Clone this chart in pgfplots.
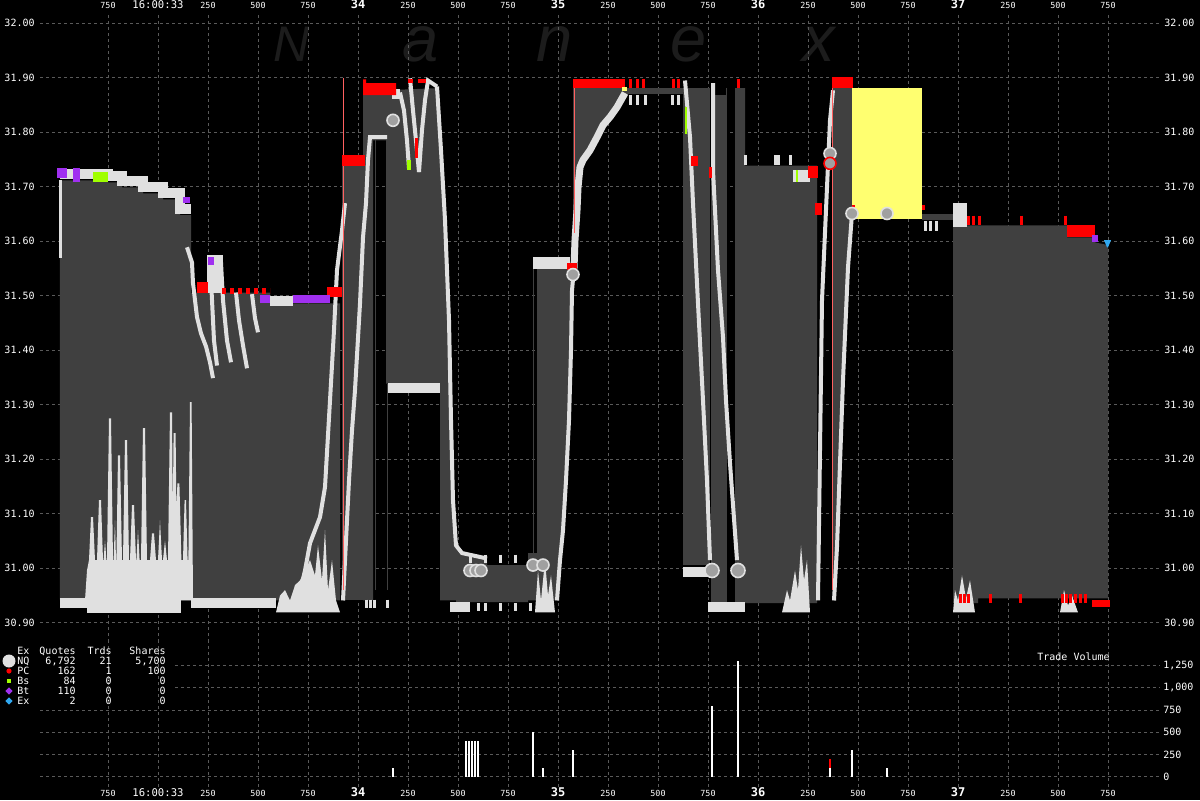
\documentclass[border=0pt]{standalone}
\usepackage{fontspec}
\setmainfont{DejaVu Sans Mono}
\newfontfamily\wmfont{Liberation Sans}
\usepackage{pgfplots}
\pgfplotsset{compat=1.18}
\definecolor{sp}{HTML}{404040}
\definecolor{wq}{HTML}{E0E0E0}
\definecolor{rq}{HTML}{FF0000}
\definecolor{rl}{HTML}{FF6060}
\definecolor{pq}{HTML}{A030F0}
\definecolor{gq}{HTML}{A0FF00}
\definecolor{bq}{HTML}{30A8F0}
\definecolor{yq}{HTML}{FFFF70}
\definecolor{gridc}{HTML}{5A5A5A}
\definecolor{trd}{HTML}{A0A0A0}
\definecolor{wm}{HTML}{1C1C1C}
\newcommand\sm{\fontsize{5}{6}\selectfont}
\newcommand\bt[1]{{\bfseries\fontsize{6}{7}\selectfont #1}}
\tikzset{
  blk/.style={fill=#1, draw=none},
  wl/.style={wq, line width=2pt},
  gst/.style={gridc, dash pattern=on 1.5pt off 1.5pt, line width=0.5pt},
}
\begin{document}
\begin{tikzpicture}
\fill[black] (0pt,0pt) rectangle (600pt,400pt);
% watermark
\node[anchor=base, text=wm, font=\wmfont\itshape\fontsize{25}{25}\selectfont] at (146pt,369pt) {N};
\node[anchor=base, text=wm, font=\wmfont\itshape\fontsize{32.5}{33}\selectfont] at (210.5pt,369pt) {a};
\node[anchor=base, text=wm, font=\wmfont\itshape\fontsize{32.5}{33}\selectfont] at (277.5pt,369pt) {n};
\node[anchor=base, text=wm, font=\wmfont\itshape\fontsize{32.5}{33}\selectfont] at (344.5pt,369pt) {e};
\node[anchor=base, text=wm, font=\wmfont\itshape\fontsize{32.5}{33}\selectfont] at (409.5pt,369pt) {x};

\begin{axis}[at={(20pt,79pt)}, anchor=south west, scale only axis,
  width=560pt, height=315pt, xmin=410, xmax=6010, ymin=30.8648, ymax=32.0207,
  axis line style={draw=none}, major tick length=0pt,
  grid=major, grid style={gst},
  xtick={750,1000,...,5750}, xticklabel pos=upper,
  xticklabels={750,{\fontsize{5.3}{6}\selectfont 16:00:33},250,500,750,\bt{34},250,500,750,\bt{35},250,500,750,\bt{36},250,500,750,\bt{37},250,500,750},
  xticklabel style={anchor=base, inner sep=0pt, yshift=1.75pt, font=\fontsize{4.2}{5}\selectfont, text=white},
  ytick={30.9,31.0,31.1,31.2,31.3,31.4,31.5,31.6,31.7,31.8,31.9,32.0},
  yticklabels={30.90,31.00,31.10,31.20,31.30,31.40,31.50,31.60,31.70,31.80,31.90,32.00},
  yticklabel style={anchor=east, inner sep=0pt, xshift=-2.5pt, font=\sm, text=white},
]
% ---- spread (gray) ----
\addplot[blk=sp] coordinates {(510,31.712) (750,31.712) (750,31.708) (820,31.708) (820,31.699) (925,31.699) (925,31.688) (1025,31.688) (1025,31.677) (1110,31.677) (1110,31.648) (1165,31.648) (1165,30.941) (510,30.941)};
\addplot[blk=sp] coordinates {(1165,31.506) (1560,31.506) (1560,31.483) (1675,31.483) (1675,31.486) (1910,31.486) (1910,30.941) (1165,30.941)};
\addplot[blk=sp] coordinates {(1920,31.739) (2025,31.739) (2025,30.941) (1920,30.941)};
\addplot[blk=sp] coordinates {(2025,31.868) (2140,31.868) (2140,31.785) (2075,31.785) (2075,30.941) (2025,30.941)};
\addplot[blk=sp] coordinates {(2140,31.877) (2395,31.881) (2415,31.767) (2435,31.639) (2455,31.455) (2465,31.272) (2475,31.125) (2490,31.042) (2490,30.941) (2410,30.941) (2410,31.339) (2140,31.339)};
\addplot[blk=sp] coordinates {(2490,31.042) (2520,31.028) (2645,31.015) (2645,31.006) (2850,31.006) (2850,30.938) (2490,30.938)};
\addplot[blk=sp] coordinates {(2895,31.556) (3060,31.556) (3070,31.543) (3065,31.400) (3055,31.272) (3040,31.161) (3025,31.070) (3010,31.015) (2995,30.941) (2850,30.941) (2850,31.028) (2895,31.028)};
\addplot[blk=sp] coordinates {(3075,31.881) (3335,31.881) (3335,31.872) (3295,31.846) (3260,31.828) (3225,31.813) (3195,31.791) (3160,31.767) (3125,31.749) (3110,31.736) (3100,31.699) (3095,31.657) (3085,31.607) (3075,31.552)};
\addplot[blk=sp] coordinates {(3335,31.881) (3625,31.881) (3625,31.870) (3335,31.870)};
\addplot[blk=sp] coordinates {(3625,31.881) (3760,31.881) (3760,31.006) (3625,31.006)};
\addplot[blk=sp] coordinates {(3765,31.868) (3845,31.868) (3845,30.936) (3765,30.936)};
\addplot[blk=sp] coordinates {(3885,31.881) (3935,31.881) (3935,31.739) (4295,31.739) (4295,30.936) (3885,30.936)};
\addplot[blk=sp] coordinates {(4375,31.881) (4470,31.881) (4470,31.651) (4450,31.552) (4425,31.345) (4410,31.193) (4395,31.039) (4380,30.941) (4375,30.941)};
\addplot[blk=yq] coordinates {(4470,31.881) (4820,31.881) (4820,31.640) (4470,31.640)};
\addplot[blk=sp] coordinates {(4820,31.650) (4985,31.650) (4985,31.639) (4820,31.639)};
\addplot[blk=sp] coordinates {(4975,31.629) (5545,31.629) (5545,31.607) (5685,31.607) (5685,31.598) (5750,31.593) (5750,30.945) (5100,30.945) (5100,30.936) (4975,30.936)};
% thin gray lines
\addplot[sp, line width=0.5pt] coordinates {(2045,31.785) (2045,30.96)};
\addplot[sp, line width=0.5pt] coordinates {(2060,31.785) (2060,30.96)};
\addplot[sp, line width=0.5pt] coordinates {(2085,31.785) (2085,30.96)};
\addplot[sp, line width=0.5pt] coordinates {(2145,31.339) (2145,30.96)};
\addplot[sp, line width=0.5pt] coordinates {(2875,31.556) (2875,31.028)};
\addplot[sp, line width=0.5pt] coordinates {(3840,31.881) (3840,30.95)};
% ---- white quote markers ----
\addplot[wq, line width=5pt] coordinates {(510,31.723) (750,31.723) (750,31.719) (820,31.719) (820,31.710) (925,31.710) (925,31.699) (1025,31.699) (1025,31.688) (1110,31.688) (1110,31.659) (1165,31.659)};
\addplot[wq, line width=1.5pt] coordinates {(515,31.712) (515,31.569)};
\addplot[wq, line width=5pt] coordinates {(510,30.936) (650,30.936)};
\addplot[wq, line width=9pt] coordinates {(645,30.934) (1115,30.934)};
\addplot[blk=wq] coordinates {(635,30.941) (645,30.996) (655,31.015) (665,31.094) (675,31.094) (685,31.015) (695,31.015) (705,31.125) (715,31.125) (725,31.015) (728,31.015) (735,31.051) (742,31.015) (745,31.015) (755,31.275) (765,31.275) (775,31.015) (778,31.015) (785,31.088) (790,31.015) (792,31.015) (800,31.207) (810,31.207) (820,31.015) (825,31.015) (835,31.235) (845,31.235) (855,31.015) (860,31.015) (870,31.116) (880,31.116) (890,31.015) (892,31.015) (900,31.070) (908,31.015) (915,31.015) (925,31.257) (935,31.257) (945,31.015) (960,31.015) (970,31.064) (980,31.064) (990,31.015) (1000,31.015) (1010,31.088) (1020,31.015) (1025,31.015) (1035,31.051) (1045,31.015) (1050,31.015) (1060,31.286) (1070,31.286) (1074,31.106) (1078,31.248) (1088,31.248) (1092,31.106) (1097,31.156) (1107,31.156) (1117,31.015) (1125,31.015) (1133,31.125) (1140,31.125) (1148,31.015) (1152,31.015) (1160,31.305) (1168,31.305) (1175,30.941)};
\addplot[wl] coordinates {(1145,31.589) (1170,31.561) (1175,31.523) (1195,31.461) (1215,31.431) (1240,31.407) (1260,31.378) (1275,31.349)};
\addplot[wl] coordinates {(1260,31.569) (1270,31.492) (1280,31.418) (1295,31.372)};
\addplot[wl] coordinates {(1315,31.561) (1325,31.492) (1345,31.418) (1365,31.378)};
\addplot[wl] coordinates {(1390,31.506) (1405,31.455) (1425,31.409) (1445,31.367)};
\addplot[wl] coordinates {(1470,31.503) (1485,31.459) (1500,31.433)};
\addplot[blk=wq] coordinates {(1245,31.574) (1325,31.574) (1325,31.506) (1245,31.506)};
\addplot[wq, line width=5pt] coordinates {(1560,31.490) (1675,31.490)};
\addplot[wq, line width=5pt] coordinates {(1165,30.936) (1590,30.936)};
\addplot[blk=wq] coordinates {(1590,30.919) (1610,30.950) (1635,30.960) (1660,30.941) (1685,30.969) (1710,30.978) (1735,30.996) (1760,31.015) (1785,30.987) (1800,31.042) (1820,30.978) (1835,31.070) (1850,30.960) (1870,31.015) (1890,30.941) (1910,30.919)};
\addplot[wl] coordinates {(1700,30.941) (1735,30.996) (1760,31.046) (1810,31.094) (1835,31.149) (1860,31.308) (1880,31.437) (1895,31.547) (1920,31.620) (1935,31.670)};
\addplot[wl] coordinates {(1925,30.941) (1940,31.051) (1955,31.161) (1970,31.253) (1985,31.327) (2010,31.486) (2025,31.607) (2040,31.670) (2050,31.749) (2060,31.791) (2145,31.791)};
\addplot[wq, line width=5pt] coordinates {(2170,31.870) (2210,31.870)};
\addplot[wl] coordinates {(2210,31.873) (2230,31.840) (2245,31.785) (2255,31.734)};
\addplot[wl] coordinates {(2260,31.899) (2275,31.840) (2290,31.785) (2305,31.727)};
\addplot[wl] coordinates {(2305,31.727) (2320,31.804) (2335,31.859) (2350,31.895) (2395,31.884)};
\addplot[wl] coordinates {(2395,31.884) (2415,31.767) (2435,31.639) (2455,31.455) (2465,31.272) (2475,31.125) (2490,31.042) (2520,31.028) (2645,31.018)};
\addplot[wq, line width=5pt] coordinates {(2150,31.330) (2410,31.330)};
\addplot[wq, line width=5pt] coordinates {(2460,30.929) (2560,30.929)};
\addplot[wq, only marks, mark=|, mark size=2pt, mark options={line width=1.5pt}] coordinates {(2560,31.018) (2635,31.018) (2710,31.018) (2785,31.018) (2600,30.929) (2635,30.929) (2710,30.929) (2785,30.929) (2860,30.929) (2040,30.935) (2060,30.935) (2080,30.935) (2145,30.935)};
\addplot[wq, line width=6pt] coordinates {(2875,31.561) (3060,31.561)};
\addplot[wl] coordinates {(2995,30.941) (3010,31.015) (3025,31.070) (3040,31.161) (3055,31.272) (3065,31.400) (3070,31.510) (3080,31.550)};
\addplot[wq, line width=3.5pt] coordinates {(3080,31.550) (3085,31.602) (3095,31.657) (3100,31.699) (3110,31.736) (3125,31.749) (3160,31.767) (3195,31.791) (3225,31.813) (3260,31.828) (3295,31.846) (3335,31.872)};
\addplot[blk=wq] coordinates {(2885,30.919) (2900,30.996) (2915,30.941) (2935,31.015) (2950,30.950) (2965,30.987) (2985,30.919)};
\addplot[wq, only marks, mark=|, mark size=2.5pt, mark options={line width=1.5pt}] coordinates {(3360,31.859) (3395,31.859) (3435,31.859) (3570,31.859) (3600,31.859) (3935,31.749) (4085,31.749) (4100,31.749) (4160,31.749) (4835,31.628) (4860,31.628) (4890,31.628)};
\addplot[wl] coordinates {(3635,31.895) (3660,31.791) (3675,31.670) (3700,31.486) (3725,31.308) (3745,31.161) (3760,31.015)};
\addplot[wl] coordinates {(3775,31.890) (3775,31.730) (3800,31.547) (3825,31.424) (3840,31.308) (3860,31.193) (3895,31.015)};
\addplot[wq, line width=5pt] coordinates {(3625,30.994) (3760,30.994)};
\addplot[wq, line width=5pt] coordinates {(3750,30.929) (3935,30.929)};
\addplot[blk=wq] coordinates {(4120,30.919) (4145,30.960) (4160,30.941) (4185,30.996) (4200,30.960) (4215,31.042) (4230,30.978) (4245,31.015) (4260,30.919)};
\addplot[blk=wq] coordinates {(4175,31.730) (4260,31.730) (4260,31.708) (4175,31.708)};
\addplot[wl] coordinates {(4300,30.941) (4310,31.217) (4320,31.492) (4345,31.699) (4360,31.822) (4375,31.877)};
\addplot[wl] coordinates {(4470,31.651) (4450,31.552) (4425,31.345) (4410,31.193) (4395,31.039) (4380,30.941)};
\addplot[blk=wq] coordinates {(4975,31.670) (5045,31.670) (5045,31.626) (4975,31.626)};
\addplot[blk=wq] coordinates {(4975,30.919) (4985,30.960) (5000,30.941) (5020,30.987) (5040,30.945) (5060,30.978) (5085,30.919)};
\addplot[blk=wq] coordinates {(5510,30.919) (5530,30.960) (5550,30.932) (5570,30.950) (5600,30.919)};
% ---- red ----
\addplot[rl, line width=0.5pt] coordinates {(1925,31.899) (1925,30.960)};
\addplot[rl, line width=0.5pt] coordinates {(3080,31.881) (3080,31.615)};
\addplot[rl, line width=0.5pt] coordinates {(4370,31.899) (4370,30.960)};
\addplot[blk=rq] coordinates {(1195,31.525) (1250,31.525) (1250,31.506) (1195,31.506)};
\addplot[rq, line width=3pt, dash pattern=on 2pt off 2pt] coordinates {(1320,31.508) (1560,31.508)};
\addplot[blk=rq] coordinates {(1845,31.516) (1920,31.516) (1920,31.497) (1845,31.497)};
\addplot[blk=rq] coordinates {(1920,31.758) (2035,31.758) (2035,31.738) (1920,31.738)};
\addplot[blk=rq] coordinates {(2025,31.897) (2040,31.897) (2040,31.890) (2190,31.890) (2190,31.868) (2025,31.868)};
\addplot[blk=rq] coordinates {(2250,31.897) (2275,31.897) (2275,31.890) (2250,31.890)};
\addplot[blk=rq] coordinates {(2300,31.897) (2340,31.897) (2340,31.890) (2300,31.890)};
\addplot[rq, line width=1.5pt] coordinates {(2290,31.789) (2290,31.752)};
\addplot[blk=rq] coordinates {(3075,31.897) (3335,31.897) (3335,31.881) (3075,31.881)};
\addplot[blk=rq] coordinates {(3045,31.560) (3095,31.560) (3095,31.547) (3045,31.547)};
\addplot[rq, only marks, mark=|, mark size=2.25pt, mark options={line width=1.5pt}] coordinates {(3360,31.889) (3395,31.889) (3425,31.889) (3575,31.889) (3600,31.889) (3900,31.889) (5050,31.639) (5075,31.639) (5105,31.639) (5315,31.639) (5535,31.639) (5010,30.945) (5030,30.945) (5050,30.945) (5160,30.945) (5310,30.945) (5520,30.945) (5540,30.945) (5560,30.945) (5585,30.945) (5610,30.945) (5635,30.945)};
\addplot[blk=rq] coordinates {(3665,31.756) (3700,31.756) (3700,31.739) (3665,31.739)};
\addplot[blk=rq] coordinates {(3755,31.736) (3770,31.736) (3770,31.717) (3755,31.717)};
\addplot[blk=rq] coordinates {(4250,31.739) (4300,31.739) (4300,31.716) (4250,31.716)};
\addplot[blk=rq] coordinates {(4285,31.670) (4320,31.670) (4320,31.648) (4285,31.648)};
\addplot[blk=rq] coordinates {(4370,31.901) (4475,31.901) (4475,31.881) (4370,31.881)};
\addplot[blk=rq] coordinates {(4470,31.666) (4485,31.666) (4485,31.657) (4470,31.657)};
\addplot[blk=rq] coordinates {(4820,31.666) (4835,31.666) (4835,31.657) (4820,31.657)};
\addplot[blk=rq] coordinates {(5545,31.629) (5685,31.629) (5685,31.607) (5545,31.607)};
\addplot[blk=rq] coordinates {(5670,30.941) (5760,30.941) (5760,30.929) (5670,30.929)};
% ---- purple, green, blue, yellow ----
\addplot[blk=pq] coordinates {(495,31.734) (545,31.734) (545,31.716) (495,31.716)};
\addplot[blk=pq] coordinates {(575,31.734) (610,31.734) (610,31.708) (575,31.708)};
\addplot[blk=pq] coordinates {(1125,31.681) (1160,31.681) (1160,31.670) (1125,31.670)};
\addplot[blk=pq] coordinates {(1250,31.571) (1280,31.571) (1280,31.556) (1250,31.556)};
\addplot[blk=pq] coordinates {(1510,31.501) (1560,31.501) (1560,31.486) (1510,31.486)};
\addplot[blk=pq] coordinates {(1675,31.501) (1860,31.501) (1860,31.486) (1675,31.486)};
\addplot[blk=pq] coordinates {(5670,31.611) (5700,31.611) (5700,31.598) (5670,31.598)};
\addplot[blk=gq] coordinates {(675,31.727) (750,31.727) (750,31.708) (675,31.708)};
\addplot[blk=gq] coordinates {(2245,31.749) (2265,31.749) (2265,31.730) (2245,31.730)};
\addplot[gq, line width=1pt] coordinates {(3640,31.846) (3640,31.797)};
\addplot[gq, line width=1pt] coordinates {(4195,31.730) (4195,31.708)};
\addplot[blk=yq] coordinates {(3320,31.884) (3345,31.884) (3345,31.875) (3320,31.875)};
\addplot[blk=bq] coordinates {(5730,31.602) (5765,31.602) (5750,31.589) (5745,31.589)};
% ---- trades ----
\addplot[only marks, mark=*, mark size=3pt, mark options={fill=trd, draw=wq, line width=0.8pt}] coordinates {(2175,31.822) (2560,30.996) (2590,30.996) (2615,30.996) (2875,31.006) (2925,31.006) (3075,31.539) (4360,31.761) (4470,31.651) (4645,31.651)};
\addplot[only marks, mark=*, mark size=3.5pt, mark options={fill=trd, draw=wq, line width=0.8pt}] coordinates {(3770,30.996) (3900,30.996)};
\addplot[only marks, mark=*, mark size=3pt, mark options={fill=trd, draw=rq, line width=0.8pt}] coordinates {(4360,31.743)};
\end{axis}

% right price labels
\begin{axis}[at={(20pt,79pt)}, anchor=south west, scale only axis,
  width=560pt, height=315pt, xmin=410, xmax=6010, ymin=30.8648, ymax=32.0207,
  axis line style={draw=none}, major tick length=0pt, xtick=\empty,
  ytick={30.9,31.0,31.1,31.2,31.3,31.4,31.5,31.6,31.7,31.8,31.9,32.0},
  yticklabels={30.90,31.00,31.10,31.20,31.30,31.40,31.50,31.60,31.70,31.80,31.90,32.00},
  yticklabel pos=right,
  yticklabel style={anchor=west, inner sep=0pt, xshift=2pt, font=\sm, text=white},
]
\end{axis}

% volume panel
\begin{axis}[at={(20pt,6.5pt)}, anchor=south west, scale only axis,
  width=560pt, height=72.5pt, xmin=410, xmax=6010, ymin=-116, ymax=1517,
  axis line style={draw=none}, major tick length=0pt,
  xmajorgrids, grid style={gst},
  xtick={750,1000,...,5750}, xticklabel pos=lower,
  xticklabels={750,{\fontsize{5.3}{6}\selectfont 16:00:33},250,500,750,\bt{34},250,500,750,\bt{35},250,500,750,\bt{36},250,500,750,\bt{37},250,500,750},
  xticklabel style={anchor=base, inner sep=0pt, yshift=-4.75pt, font=\fontsize{4.2}{5}\selectfont, text=white},
  ytick={0,250,500,750,1000,1250},
  yticklabels={0,250,500,750,{1,000},{1,250}},
  yticklabel pos=right,
  yticklabel style={anchor=west, inner sep=0pt, xshift=1.5pt, font=\sm, text=white},
]
\draw[gst] (axis cs:410,0) -- (axis cs:6010,0);
\draw[gst] (axis cs:410,250) -- (axis cs:6010,250);
\draw[gst] (axis cs:410,500) -- (axis cs:6010,500);
\draw[gst] (axis cs:410,750) -- (axis cs:6010,750);
\draw[gst] (axis cs:1085,1000) -- (axis cs:6010,1000);
\draw[gst] (axis cs:1085,1250) -- (axis cs:6010,1250);
\addplot[ycomb, white, line width=0.6pt] coordinates {(2175,100) (2540,400) (2555,400) (2570,400) (2585,400) (2600,400) (2875,500) (2925,100) (3075,300) (3770,800) (3900,1300) (4360,100) (4470,300) (4645,100)};
\addplot[rq, line width=0.6pt] coordinates {(4360,100) (4360,200)};
\end{axis}

% legend table
\begin{scope}[font=\sm, text=white]
\node[anchor=base west, inner sep=0pt] at (8.5pt,72.7pt) {Ex};
\node[anchor=base east, inner sep=0pt] at (38pt,72.7pt) {Quotes};
\node[anchor=base east, inner sep=0pt] at (56pt,72.7pt) {Trds};
\node[anchor=base east, inner sep=0pt] at (83pt,72.7pt) {Shares};
\fill[wq] (4.5pt,69.5pt) circle (3.25pt);
\node[anchor=base west, inner sep=0pt] at (8.5pt,67.7pt) {NQ};
\node[anchor=base east, inner sep=0pt] at (38pt,67.7pt) {6,792};
\node[anchor=base east, inner sep=0pt] at (56pt,67.7pt) {21};
\node[anchor=base east, inner sep=0pt] at (83pt,67.7pt) {5,700};
\fill[rq] (4.5pt,64.5pt) circle (1.3pt);
\node[anchor=base west, inner sep=0pt] at (8.5pt,62.7pt) {PC};
\node[anchor=base east, inner sep=0pt] at (38pt,62.7pt) {162};
\node[anchor=base east, inner sep=0pt] at (56pt,62.7pt) {1};
\node[anchor=base east, inner sep=0pt] at (83pt,62.7pt) {100};
\fill[gq] (3.3pt,58.3pt) rectangle (5.7pt,60.7pt);
\node[anchor=base west, inner sep=0pt] at (8.5pt,57.7pt) {Bs};
\node[anchor=base east, inner sep=0pt] at (38pt,57.7pt) {84};
\node[anchor=base east, inner sep=0pt] at (56pt,57.7pt) {0};
\node[anchor=base east, inner sep=0pt] at (83pt,57.7pt) {0};
\fill[pq] (4.5pt,56.3pt) -- (6.3pt,54.5pt) -- (4.5pt,52.7pt) -- (2.7pt,54.5pt) -- cycle;
\node[anchor=base west, inner sep=0pt] at (8.5pt,52.7pt) {Bt};
\node[anchor=base east, inner sep=0pt] at (38pt,52.7pt) {110};
\node[anchor=base east, inner sep=0pt] at (56pt,52.7pt) {0};
\node[anchor=base east, inner sep=0pt] at (83pt,52.7pt) {0};
\fill[bq] (4.5pt,51.3pt) -- (6.3pt,49.5pt) -- (4.5pt,47.7pt) -- (2.7pt,49.5pt) -- cycle;
\node[anchor=base west, inner sep=0pt] at (8.5pt,47.7pt) {Ex};
\node[anchor=base east, inner sep=0pt] at (38pt,47.7pt) {2};
\node[anchor=base east, inner sep=0pt] at (56pt,47.7pt) {0};
\node[anchor=base east, inner sep=0pt] at (83pt,47.7pt) {0};
\node[anchor=base west, inner sep=0pt] at (518.5pt,69.7pt) {Trade Volume};
\end{scope}
\pgfresetboundingbox
\path[use as bounding box] (0pt,0pt) rectangle (600pt,400pt);
\end{tikzpicture}
\end{document}
